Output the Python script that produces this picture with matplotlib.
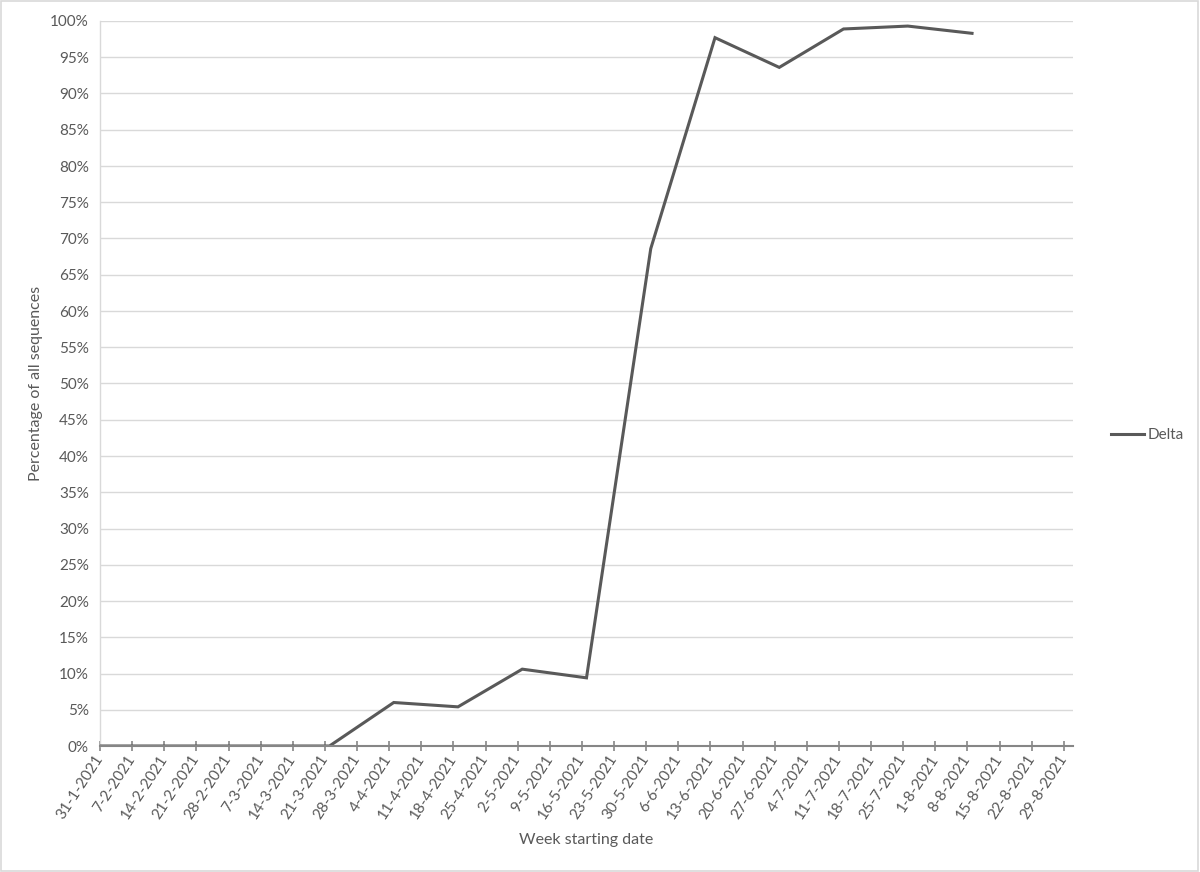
import matplotlib
matplotlib.use("Agg")
import matplotlib.pyplot as plt
from matplotlib.patches import Rectangle
from matplotlib.lines import Line2D
import datetime as dt

# ---- data ----
tick_dates = ["31-1-2021", "7-2-2021", "14-2-2021", "21-2-2021", "28-2-2021", "7-3-2021",
              "14-3-2021", "21-3-2021", "28-3-2021", "4-4-2021", "11-4-2021", "18-4-2021",
              "25-4-2021", "2-5-2021", "9-5-2021", "16-5-2021", "23-5-2021", "30-5-2021",
              "6-6-2021", "13-6-2021", "20-6-2021", "27-6-2021", "4-7-2021", "11-7-2021",
              "18-7-2021", "25-7-2021", "1-8-2021", "8-8-2021", "15-8-2021", "22-8-2021",
              "29-8-2021"]
delta_dates = ["25-1-2021", "8-2-2021", "22-2-2021", "8-3-2021", "22-3-2021", "5-4-2021",
               "19-4-2021", "3-5-2021", "17-5-2021", "31-5-2021", "14-6-2021", "28-6-2021",
               "12-7-2021", "26-7-2021", "9-8-2021"]
delta_values = [0.0, 0.0, 0.0, 0.0, 0.0, 6.0, 5.4, 10.6, 9.4, 68.6, 97.7, 93.6, 98.9, 99.3, 98.3]
series_name = "Delta"

def parse(s):
    return dt.datetime.strptime(s, "%d-%m-%Y")

tick_x = [parse(s) for s in tick_dates]
delta_x = [parse(s) for s in delta_dates]

plt.rcParams['font.family'] = ['Lato', 'DejaVu Sans']
TXT = '#595959'

fig = plt.figure(figsize=(12, 8.72), dpi=100)
fig.patches.append(Rectangle((0.0005, 0.0007), 0.998, 0.998, transform=fig.transFigure,
                             fill=False, edgecolor='#d9d9d9', linewidth=1.2))
ax = fig.add_axes([100/1200, 1 - 746/872, (1073-100)/1200, (746-21)/872])

ax.plot(delta_x, delta_values, color='#595959', linewidth=2.2, solid_joinstyle='miter',
        zorder=3, clip_on=True)

ax.set_xlim(tick_x[0], parse("31-8-2021"))
ax.set_ylim(0, 100)
ax.set_yticks(range(0, 101, 5))
ax.set_yticklabels([f"{v}%" for v in range(0, 101, 5)])
ax.set_xticks(tick_x)
ax.set_xticklabels(tick_dates, rotation=57, ha='right', va='center', rotation_mode='anchor')

ax.grid(axis='y', color='#d9d9d9', linewidth=1.0)
ax.set_axisbelow(True)
for s in ['top', 'right']:
    ax.spines[s].set_visible(False)
ax.spines['left'].set_color('#d9d9d9')
ax.spines['left'].set_linewidth(1.0)
ax.spines['bottom'].set_color('#868686')
ax.spines['bottom'].set_linewidth(1.5)
ax.spines['bottom'].set_zorder(4)

ax.tick_params(axis='y', length=0, pad=8, labelsize=11, labelcolor=TXT)
ax.tick_params(axis='x', direction='inout', length=7, width=1.2, color='#868686',
               pad=4, labelsize=11, labelcolor=TXT)

ax.set_ylabel("Percentage of all sequences", fontsize=11.5, color=TXT, labelpad=5)
ax.set_xlabel("Week starting date", fontsize=11.5, color=TXT, labelpad=8)

handle = Line2D([0], [0], color='#595959', linewidth=2.2)
fig.legend([handle], [series_name], loc='center left',
           bbox_to_anchor=(1103/1200, 1 - 435/872), frameon=False,
           handlelength=2.2, handletextpad=0.2, borderpad=0, fontsize=11,
           labelcolor=TXT)

fig.savefig("out.png", dpi=100)
